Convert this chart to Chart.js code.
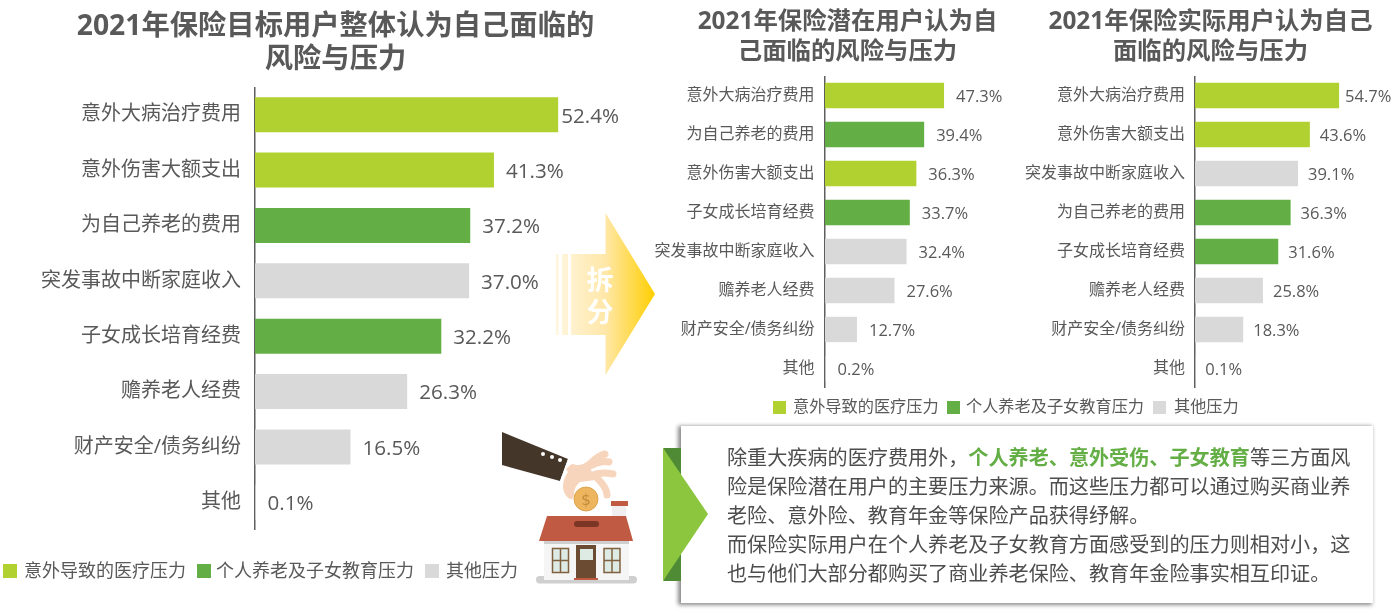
<!DOCTYPE html>
<html lang="zh"><head><meta charset="utf-8">
<script src="https://cdn.jsdelivr.net/npm/chart.js@4"></script>
<style>
html,body{margin:0;padding:0;background:#fff;width:1396px;height:613px;overflow:hidden}
body{position:relative;font-family:"Open Sans","Noto Sans CJK SC",sans-serif;color:#595959}
canvas{position:absolute;display:block}
.t{position:absolute;font-weight:700;text-align:center;white-space:nowrap}
.lg{position:absolute;white-space:nowrap;line-height:1}
.sw{position:absolute}
#box{position:absolute;left:681px;top:426px;width:692px;height:177px;background:#fff;box-shadow:-2px 1px 4px 1px #8c8c8c}
.ln{position:absolute;left:727px;font-size:20.12px;line-height:29px;white-space:nowrap;color:#4d4d4d}
.ln b{color:#64ae46}
svg{position:absolute;left:0;top:0}
</style></head><body>
<canvas id="c1" width="640" height="443" style="left:0;top:87px"></canvas>
<canvas id="c2" width="370" height="312" style="left:640px;top:75.5px"></canvas>
<canvas id="c3" width="386" height="312" style="left:1010px;top:75.5px"></canvas>
<div id="box"></div>
<svg width="1396" height="613" viewBox="0 0 1396 613">
<defs><linearGradient id="ag" gradientUnits="userSpaceOnUse" x1="556" y1="0" x2="655" y2="0">
<stop offset="0" stop-color="#fff6e0"/><stop offset=".5" stop-color="#ffe7a8"/><stop offset="1" stop-color="#ffcf00"/></linearGradient></defs>
<path fill="url(#ag)" d="M556 254h2.500v81H556zM562 254h6v81h-6zM571 254h34.500v-41L655 294l-49.500 81v-40H571z"/>
<text x="600" y="290" font-size="27" font-weight="700" fill="#fff" text-anchor="middle" font-family="Noto Sans CJK SC">拆</text>
<text x="600" y="322" font-size="27" font-weight="700" fill="#fff" text-anchor="middle" font-family="Noto Sans CJK SC">分</text>
<path fill="#4f8a35" d="M663 448h18v32zM663 581h18v-32z"/>
<path fill="#8cc63f" d="M663 448L708 514 663 581z"/>
<!-- hand + house -->
<path fill="#45362a" d="M502 432l66 27-8 22-58-16z"/>
<circle cx="543" cy="454" r="2" fill="#fff"/><circle cx="552" cy="457" r="2" fill="#fff"/><circle cx="560" cy="460" r="2" fill="#fff"/>
<path fill="#fff" d="M568 459l6 3-8 20-6-1z"/>
<path fill="none" stroke="#f6d5bc" stroke-width="7" stroke-linecap="round" d="M572 468c8 2 14 0 20-6 5-5 9-7 13-8M585 469c8-5 16-9 24-7M590 476c7-3 14-4 23-2M598 479c5 5 9 10 9 16"/>
<path fill="#f6d5bc" d="M572 464l18 4 6 12-16 2c-4 3-6 7-6 12 0 4-2 6-4 5-4-2-7-7-7-13 0-5 2-10 5-14l-2-3z"/>
<circle cx="586" cy="499" r="12" fill="#eeb55f" stroke="#dca24e" stroke-width="1"/>
<text x="586" y="505" font-size="15" fill="#c48a3a" text-anchor="middle" font-family="DejaVu Sans">$</text>
<rect x="536" y="576" width="101" height="7.500" rx="3.700" fill="#cfcfcf"/>
<path fill="#f0eeee" d="M612 505h14v12h-14z"/>
<rect x="611" y="501" width="17" height="5" fill="#c05a42"/>
<rect x="544" y="541" width="85" height="39" fill="#f5f5f5"/>
<rect x="544" y="541" width="85" height="3" fill="#cfcfcf"/>
<path fill="#c05a42" d="M547 516h79l7 25h-94z"/>
<rect x="574" y="521" width="25" height="6" rx="3" fill="#7a3525"/>
<rect x="576" y="545" width="20" height="33" fill="#6b4c33"/><rect x="580" y="549" width="13" height="11" fill="#deeae4"/>
<rect x="574" y="578" width="24" height="2" fill="#c05a42"/>
<g fill="#deeae4" stroke="#80613f" stroke-width="1.500"><rect x="552.500" y="548.500" width="16" height="24"/><rect x="604" y="548.500" width="16" height="24"/></g>
<path stroke="#80613f" stroke-width="1.500" d="M560.500 548v25M552 560.500h17M612 548v25M604 560.500h16"/>
</svg>
<script>
const categoriesAll = ["意外大病治疗费用","意外伤害大额支出","为自己养老的费用","突发事故中断家庭收入","子女成长培育经费","赡养老人经费","财产安全/债务纠纷","其他"];
const valuesAll = [52.4,41.3,37.2,37.0,32.2,26.3,16.5,0.1];
const groupsAll = [0,0,1,2,1,2,2,2];
const categoriesPotential = ["意外大病治疗费用","为自己养老的费用","意外伤害大额支出","子女成长培育经费","突发事故中断家庭收入","赡养老人经费","财产安全/债务纠纷","其他"];
const valuesPotential = [47.3,39.4,36.3,33.7,32.4,27.6,12.7,0.2];
const groupsPotential = [0,1,0,1,2,2,2,2];
const categoriesActual = ["意外大病治疗费用","意外伤害大额支出","突发事故中断家庭收入","为自己养老的费用","子女成长培育经费","赡养老人经费","财产安全/债务纠纷","其他"];
const valuesActual = [54.7,43.6,39.1,36.3,31.6,25.8,18.3,0.1];
const groupsActual = [0,0,2,1,1,2,2,2];
const seriesNames = ["意外导致的医疗压力","个人养老及子女教育压力","其他压力"];
const seriesColors = ["#b1d130","#64ae46","#d9d9d9"];
const FONT = '"Open Sans","Noto Sans CJK SC",sans-serif';
const TEXT = "#595959";

const valueLabels = {
  id:"valueLabels",
  afterDatasetsDraw(chart,args,opts){
    const {ctx,scales:{x,y}} = chart;
    ctx.save();
    ctx.font = opts.size+"px "+FONT; ctx.fillStyle = TEXT;
    ctx.textBaseline = "middle"; ctx.textAlign = "left";
    opts.values.forEach((v,i)=>{
      const gap = i===0 ? opts.firstGap : opts.gap;
      ctx.fillText(v.toFixed(1)+"%", x.getPixelForValue(v)+gap, y.getPixelForValue(i)+2);
    });
    ctx.restore();
  }
};

function build(id,cats,vals,groups,o){
  new Chart(document.getElementById(id),{
    type:"bar",
    data:{labels:cats,datasets:seriesNames.map((n,g)=>({
      label:n,
      data:vals.map((v,i)=>groups[i]===g?v:null),
      backgroundColor:seriesColors[g],
      categoryPercentage:1,barPercentage:o.bar,borderWidth:0
    }))},
    options:{
      indexAxis:"y",responsive:false,animation:false,
      layout:{padding:{left:0,right:o.right,top:0,bottom:0}},
      scales:{
        x:{display:false,stacked:true,min:0,max:o.max},
        y:{stacked:true,
          grid:{display:false,drawTicks:false},
          border:{display:true,color:"#5f5f5f",width:1.5},
          ticks:{color:TEXT,padding:o.pad,font:{size:o.font,family:FONT},autoSkip:false},
          afterFit(s){s.width=o.axis;s.paddingTop=0;s.paddingBottom=0;}
        }
      },
      plugins:{legend:{display:false},tooltip:{enabled:false},
        valueLabels:{values:vals,size:o.labelFont,gap:o.gap,firstGap:o.firstGap}}
    },
    plugins:[valueLabels]
  });
}
build("c1",categoriesAll,valuesAll,groupsAll,{max:59.8,bar:.63,right:39,pad:14,font:20,labelFont:20.6,axis:255,gap:12,firstGap:3});
build("c2",categoriesPotential,valuesPotential,groupsPotential,{max:59.6,bar:.65,right:35,pad:10.5,font:16,labelFont:16.5,axis:185,gap:12,firstGap:12});
build("c3",categoriesActual,valuesActual,groupsActual,{max:59.6,bar:.65,right:44,pad:10,font:16,labelFont:16.5,axis:185,gap:10,firstGap:6});

function addText(cls,x,y,w,html,size){
  const d=document.createElement("div");d.className=cls;d.innerHTML=html;
  d.style.cssText=`left:${x}px;top:${y}px;${w?`width:${w}px;`:""}font-size:${size}px;line-height:${size*1.2}px`;
  document.body.appendChild(d);
}
const titleAll=["2021年保险目标用户整体认为自己面临的","风险与压力"];
const titlePotential=["2021年保险潜在用户认为自","己面临的风险与压力"];
const titleActual=["2021年保险实际用户认为自己","面临的风险与压力"];
titleAll.forEach((s,i)=>addText("t",35.5,8+i*33,600,s,28.3));
titlePotential.forEach((s,i)=>addText("t",597.5,5+i*30,500,s,24.4));
titleActual.forEach((s,i)=>addText("t",960.5,5+i*30,500,s,24.4));

function legend(items,cy,size,box){
  items.forEach(([bx,tx],g)=>{
    const s=document.createElement("div");s.className="sw";
    s.style.cssText=`left:${bx}px;top:${cy-box/2}px;width:${box}px;height:${box}px;background:${seriesColors[g]}`;
    document.body.appendChild(s);
    const t=document.createElement("div");t.className="lg";t.textContent=seriesNames[g];
    t.style.cssText=`left:${tx}px;top:${cy-size/2-1}px;font-size:${size}px`;
    document.body.appendChild(t);
  });
}
legend([[3,24],[197,216],[425,446]],571,18,14);
legend([[773,793],[947,966],[1153,1174]],407,16.2,13);

const note=["除重大疾病的医疗费用外，<b>个人养老、意外受伤、子女教育</b>等三方面风",
"险是保险潜在用户的主要压力来源。而这些压力都可以通过购买商业养",
"老险、意外险、教育年金等保险产品获得纾解。",
"而保险实际用户在个人养老及子女教育方面感受到的压力则相对小，这",
"也与他们大部分都购买了商业养老保险、教育年金险事实相互印证。"];
note.forEach((s,i)=>{const d=document.createElement("div");d.className="ln";d.innerHTML=s;d.style.top=(443+i*29)+"px";document.body.appendChild(d);});
</script>
</body></html>
